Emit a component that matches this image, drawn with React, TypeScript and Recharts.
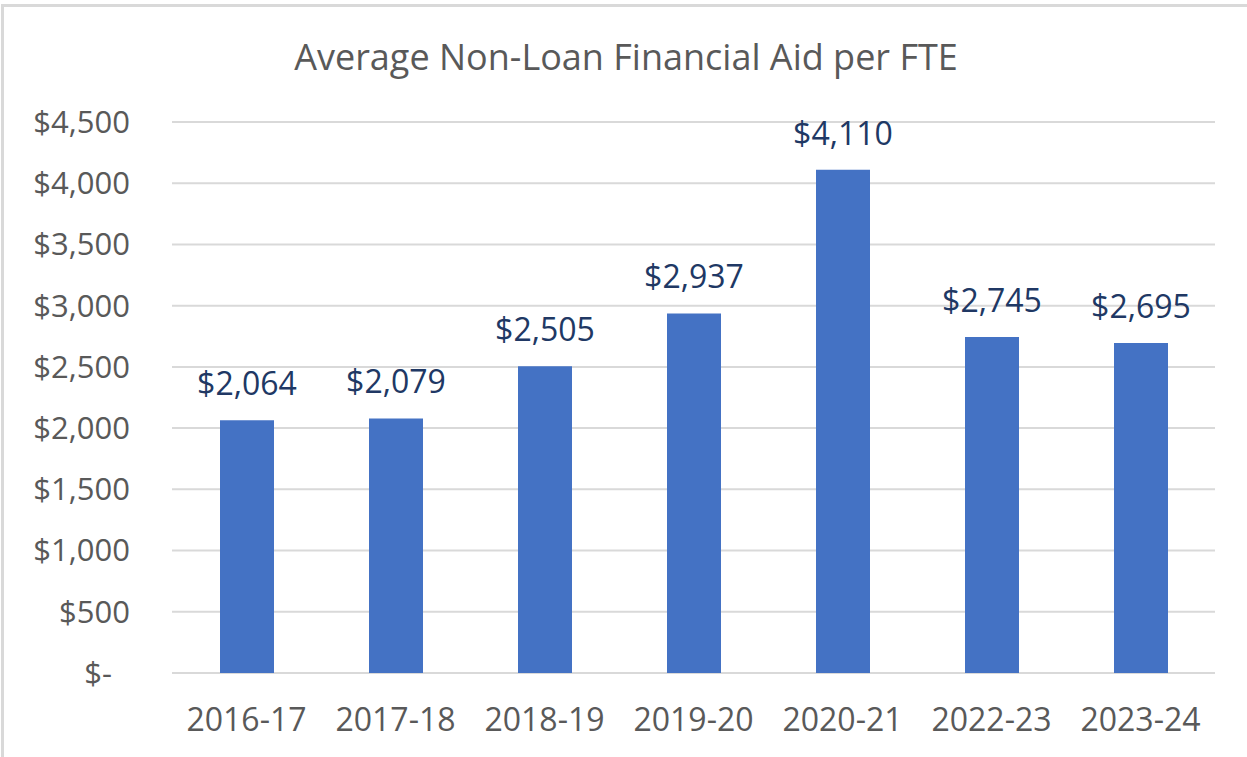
import { Bar, BarChart, CartesianGrid, LabelList, XAxis, YAxis } from "recharts";

const YEARS = ["2016-17", "2017-18", "2018-19", "2019-20", "2020-21", "2022-23", "2023-24"];
const AID_PER_FTE = [2064, 2079, 2505, 2937, 4110, 2745, 2695];
const Y_TICKS = [0, 500, 1000, 1500, 2000, 2500, 3000, 3500, 4000, 4500];

const FONT = "'Open Sans', 'Noto Sans', sans-serif";
const GRAY_TEXT = "#595959";

const money = (v: number) => `$${v.toLocaleString("en-US")}`;

function YTick(props: any) {
  const { x, y, payload } = props;
  const zero = payload.value === 0;
  return (
    <text
      x={zero ? x - 18 : x}
      y={y}
      dy="0.35em"
      textAnchor="end"
      fontSize={31}
      fontFamily={FONT}
      fill={GRAY_TEXT}
    >
      {zero ? "$-" : money(payload.value)}
    </text>
  );
}

export default function App() {
  const data = YEARS.map((year, i) => ({ year, value: AID_PER_FTE[i] }));

  return (
    <div style={{ position: "fixed", left: 0, top: 0, width: 1247, height: 757, background: "#fff" }}>
      <div
        style={{
          position: "absolute",
          left: 1,
          top: 4,
          width: 1260,
          height: 770,
          borderTop: "3px solid #d9d9d9",
          borderLeft: "3px solid #d9d9d9",
        }}
      />
      <div
        style={{
          position: "absolute",
          left: 0,
          width: 1252,
          top: 33,
          textAlign: "center",
          fontFamily: FONT,
          fontSize: 36,
          lineHeight: "48px",
          color: GRAY_TEXT,
        }}
      >
        Average Non-Loan Financial Aid per FTE
      </div>
      <BarChart
        width={1247}
        height={757}
        data={data}
        margin={{ top: 122, right: 32, left: 0, bottom: 0 }}
        style={{ position: "absolute", left: 0, top: 0 }}
      >
        <CartesianGrid vertical={false} stroke="#d9d9d9" strokeWidth={2} />
        <XAxis
          dataKey="year"
          axisLine={false}
          tickLine={false}
          height={84}
          tickSize={0}
          tickMargin={35}
          interval={0}
          tick={{ fontSize: 32, fontFamily: FONT, fill: GRAY_TEXT }}
        />
        <YAxis
          domain={[0, 4500]}
          ticks={Y_TICKS}
          width={172}
          axisLine={false}
          tickLine={false}
          tickSize={0}
          tickMargin={42}
          interval={0}
          tick={<YTick />}
        />
        <Bar dataKey="value" fill="#4472c4" barSize={54} isAnimationActive={false}>
          <LabelList
            dataKey="value"
            position="top"
            offset={25}
            formatter={(v: any) => money(Number(v))}
            style={{ fontSize: 32, fontFamily: FONT, fill: "#203864" }}
          />
        </Bar>
      </BarChart>
    </div>
  );
}
